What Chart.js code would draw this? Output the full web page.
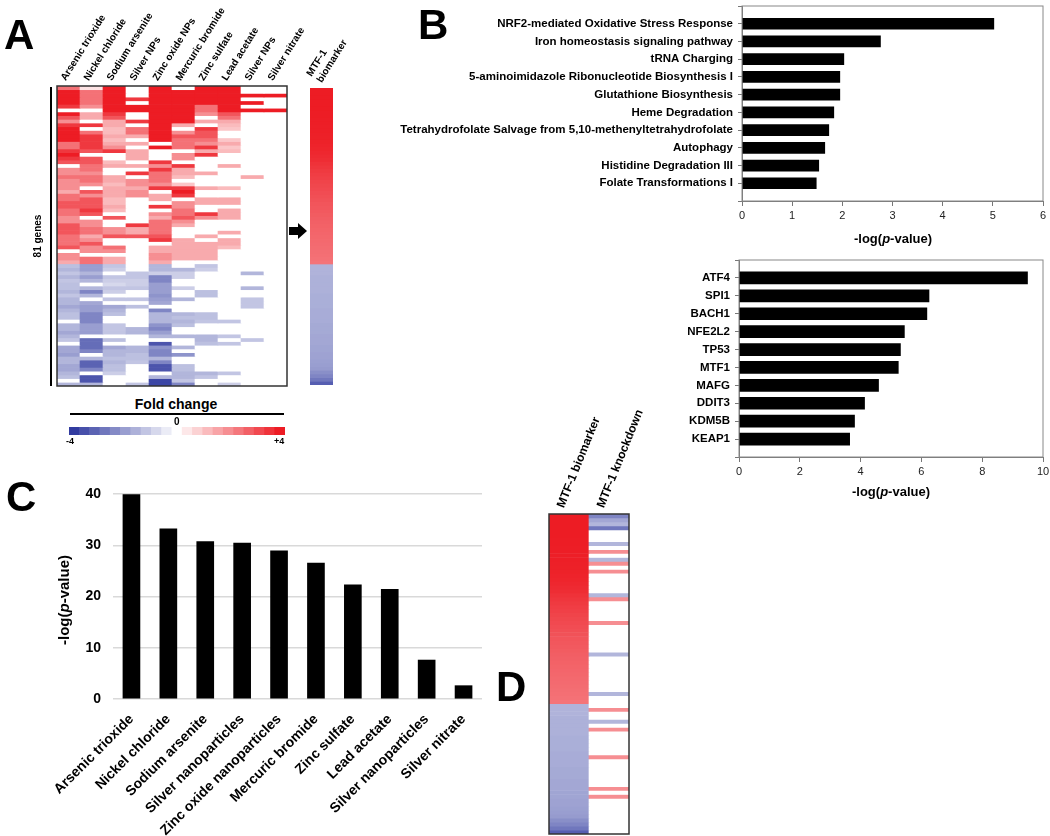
<!DOCTYPE html>
<html><head><meta charset="utf-8">
<script src="https://cdn.jsdelivr.net/npm/chart.js@4.4.0/dist/chart.umd.min.js"></script>
<style>
body{margin:0;background:#fff;font-family:'Liberation Sans',Arial,sans-serif;}
#wrap{position:relative;width:1050px;height:836px;overflow:hidden;background:#fff;}
canvas{position:absolute;}
.t{position:absolute;font-weight:bold;color:#000;white-space:nowrap;line-height:1;}
.letter{font-size:42px;}
.c{transform:translate(-50%,-50%);}
</style></head><body><div id="wrap">
<canvas id="cA" width="330" height="390" style="left:0;top:0"></canvas>
<canvas id="cAb" width="60" height="390" style="left:295px;top:0"></canvas>
<canvas id="cBar" width="235" height="18" style="left:60px;top:422px"></canvas>
<canvas id="cB1" width="750" height="250" style="left:300px;top:0"></canvas>
<canvas id="cB2" width="410" height="260" style="left:640px;top:250px"></canvas>
<canvas id="cC" width="500" height="366" style="left:0;top:470px"></canvas>
<canvas id="cD" width="170" height="436" style="left:480px;top:400px"></canvas>

<div class="t letter" style="left:4px;top:14px">A</div>
<div class="t letter" style="left:418px;top:4px">B</div>
<div class="t letter" style="left:6px;top:476px">C</div>
<div class="t letter" style="left:496px;top:666px">D</div>

<div style="position:absolute;left:50px;top:87px;width:2px;height:299px;background:#000"></div>
<div class="t c" style="left:38px;top:236px;font-size:10px;transform:translate(-50%,-50%) rotate(-90deg)">81 genes</div>
<div style="position:absolute;left:289px;top:227px;width:10px;height:8px;background:#000"></div>
<div style="position:absolute;left:298px;top:223px;width:0;height:0;border-top:8px solid transparent;border-bottom:8px solid transparent;border-left:9px solid #000"></div>

<div class="t c" style="left:176px;top:404px;font-size:14px">Fold change</div>
<div style="position:absolute;left:70px;top:413px;width:214px;height:2px;background:#000"></div>
<div class="t" style="left:174px;top:417px;font-size:10px">0</div>
<div class="t" style="left:66px;top:437px;font-size:9px">-4</div>
<div class="t" style="left:274px;top:437px;font-size:9px">+4</div>

<div class="t c" style="left:893px;top:238px;font-size:13px">-log(<i>p</i>-value)</div>
<div class="t c" style="left:891px;top:491px;font-size:13px">-log(<i>p</i>-value)</div>
<div class="t c" style="left:63px;top:600px;font-size:15px;transform:translate(-50%,-50%) rotate(-90deg)">-log(<i>p</i>-value)</div>
</div>
<script>
// ---------- DATA ----------
const heatColumns = ["Arsenic trioxide","Nickel chloride","Sodium arsenite","Silver NPs","Zinc oxide NPs","Mercuric bromide","Zinc sulfate","Lead acetate","Silver NPs","Silver nitrate"];
// fold change per gene (81 rows, top to bottom) for each exposure
const arsenicTrioxide = [2.5,4,4,4,4,3.5,0,4,3,2,3.5,4,4,4,4,2.5,2.5,3.5,4,3.5,3,0,2,2,2.5,2,2,
 2,1.5,2.5,2.5,3,3,2.5,2.5,2,2,3,3,3,2.5,2.5,2.5,3,0,2,2,1.5,
 -1.3,-1.5,-1.2,-1.5,-1.2,-1.3,
 -1.3,-1.5,-1.2,-1.5,-1.5,-1.8,-1.5,-1.3,-1.3,0,-1.5,-1.5,-1.8,-1.5,-1.2,0,-1.8,-1.8,-2,-1.5,-1.5,-1.8,-1.8,-1.5,-1.3,0,-1.5];
const nickelChloride = [0.5,2.5,2.5,2.5,2.5,2,0,1.5,1.5,0,3.5,0,2.5,3.5,3.5,3.5,3.5,3,0,3,3,2.5,2.5,2,2.5,2.5,2,
 0,3,2,3,3,3,3.5,3,0,2,2,2.5,2.5,1.5,2,3,2,2,0,2.5,2.5,
 -2,-2,-1.5,-2,-1.5,0,
 -1.5,-2.5,-1.5,0,-1.8,-2,-2,-2.5,-2.5,-2.5,-2,-2,-2,0,-3,-3,-3,-2.5,0,-1.5,-3.2,-3.2,-2.5,0,-3.5,-3.5,-1.5];
const sodiumArsenite = [4,4,4,4,4,4,4,3.5,3,1.5,1.5,1.2,1.2,1.5,1.2,1.5,2,3.5,0,0,1.2,1.5,0,0,1.5,1.5,1.2,
 1.5,1.5,1.5,1.2,1.2,1.5,1.2,0,3,0,0,2,2,3,0,0,2.5,2,0,1.5,1.5,
 -1.2,-1,0,-1.2,-1,-0.8,
 -1.2,-1,0,-1.2,0,-1.8,-1.5,-1.3,0,0,-1.2,-1.2,-1.2,0,-1.3,0,-1.8,-1.5,-1.5,-1.3,-1.5,-1.3,-1.3,-1,0,0,0];
const silverNPsA = [0,0,0,3.5,0,4,4,0,0,3.5,0,2.5,2.5,1.5,0,1.5,0,1.5,1.5,1.5,0,1.5,0,3.5,0,2,2,
 1.5,2,2,0,0,0,0,0,0,0,3.5,1.5,1.5,3,0,0,0,0,0,0,0,
 0,0,-1.2,-1.2,-1,-1,
 -1.2,0,0,-1.2,0,-1.3,0,0,0,0,0,-1.5,-1.5,0,0,0,-1.5,-1.5,-1.3,-1.3,-1.2,0,0,0,0,0,-1.2];
const zincOxideNPs = [4,4,4,4,4,4,4,4,4,4,4,4,4,4,4,0,4,0,0,0,3.5,2,3.5,2.5,2.5,2.5,2,
 3.5,0,1.5,1.5,0,3.5,0,2,1.5,2.5,2.5,2.5,2.5,3,3.5,0,1.5,1.5,2,2,1.5,
 -1.5,-1.5,-1,-2.5,-2.5,-2,
 -2,-2,-2.2,-2,-1.8,0,-2.5,-1.5,-1.5,-1.5,-2.2,-2.5,-2,-1.5,0,-3.5,-2.2,-2.5,-2.5,-1.5,-2.5,-3.5,-3.5,0,-1.5,-3.8,-3.8];
const mercuricBromide = [0,4,4,4,4,4,4,4,4,4,1.5,0,2,3,2.5,2.5,2.5,0,2,2,0,3.5,1.5,1.5,1.2,0,1,
 3.5,4,3.5,0,2,2,2.5,2.5,3,2,1.5,0,0,0,1.5,1.5,1.5,1.5,1.5,1.5,0,
 0,-1.5,-1,-1,0,0,
 -1,0,0,-1.5,0,0,0,-1.5,-1.3,-1.5,-1.3,0,0,-1.5,0,0,-1.5,0,-2.2,0,0,-1.3,-1.3,-1.5,-1.5,-1.2,-2.5];
const zincSulfate = [4,4,4,4,4,2.5,2.5,2,0,1.5,0,3.5,3,3,2.5,2,3.5,1.5,3.5,0,0,0,0,1.5,0,0,0,
 1.5,0,0,1.5,1.5,0,0,3.5,2,0,0,0,0,1.5,0,1.5,1.5,1.5,1.5,1.5,0,
 -1.2,-1,0,0,0,0,
 0,-1.3,-1.3,0,0,0,0,-1.3,-1.3,-1.2,0,0,0,-1.5,-1.5,-1.3,0,0,0,0,0,0,0,-1.5,-1.2,0,0];
const leadAcetate = [4,4,4,4,4,4,4,3,2.5,1.5,1.2,1,0,0,1,1.5,1,1.2,0,0,0,1.5,0,0,0,0,0,
 1.2,0,0,1.5,1.5,0,1.5,1.5,1.5,0,0,0,1.5,0,1.5,1.5,1.2,0,0,0,0,
 0,0,0,0,0,0,
 0,0,0,0,0,0,0,0,0,-1.2,0,0,0,-1.2,0,-1.2,0,0,0,0,0,0,0,-1.2,0,0,-1];
const silverNPsB = [0,0,4,0,4,0,4,0,0,0,0,0,0,0,0,0,0,0,0,0,0,0,0,0,1.5,0,0,
 0,0,0,0,0,0,0,0,0,0,0,0,0,0,0,0,0,0,0,0,0,
 0,0,-1.5,0,0,0,
 -1.5,0,0,-1.2,-1.2,-1.2,0,0,0,0,0,0,0,0,-1.2,0,0,0,0,0,0,0,0,0,0,0,0];
const silverNitrate = [0,0,4,0,0,0,4,0,0,0,0,0,0,0,0,0,0,0,0,0,0,0,0,0,0,0,0,
 0,0,0,0,0,0,0,0,0,0,0,0,0,0,0,0,0,0,0,0,0,
 0,0,0,0,0,0,
 0,0,0,0,0,0,0,0,0,0,0,0,0,0,0,0,0,0,0,0,0,0,0,0,0,0,0];
const mtf1Biomarker = [4,4,4,4,4,4,3.98,3.98,3.96,3.96,3.95,3.94,
 3.93,3.92,3.9,3.88,3.85,3.8,3.75,3.7,3.62,3.55,3.48,3.42,
 3.36,3.3,3.25,3.2,3.15,3.1,3.05,3,2.96,2.92,2.88,2.84,
 2.8,2.77,2.74,2.71,2.68,2.65,2.62,2.59,2.56,2.53,2.5,2.45,
 -1.55,-1.55,-1.55,-1.6,-1.6,-1.6,-1.6,-1.6,-1.65,-1.65,-1.65,-1.65,
 -1.7,-1.7,-1.7,-1.7,-1.75,-1.75,-1.75,-1.8,-1.8,-1.8,-1.85,-1.85,
 -1.9,-1.9,-1.95,-2,-2.05,-2.3,-2.5,-2.8,-3.3];
const mtf1Knockdown = [-2.5,-1.8,-1.5,-2.8,0,0,0,-1.5,0,2,0,-1.5,2,0,2,0,0,0,0,0,
 -1.5,2,0,0,0,0,0,2,0,0,0,0,0,0,0,-1.5,0,0,0,0,
 0,0,0,0,0,-1.5,0,0,0,2,0,0,-1.5,0,2,0,0,0,0,0,
 0,2,0,0,0,0,0,0,0,2,0,2,0,0,0,0,0,0,0,0,0];
const colorbarSteps = [-4,-3.6,-3.2,-2.8,-2.4,-2,-1.6,-1.2,-0.8,-0.4,0,0.4,0.8,1.2,1.6,2,2.4,2.8,3.2,3.6,4];

const pathways = ["NRF2-mediated Oxidative Stress Response","Iron homeostasis signaling pathway","tRNA Charging","5-aminoimidazole Ribonucleotide Biosynthesis I","Glutathione Biosynthesis","Heme Degradation","Tetrahydrofolate Salvage from 5,10-methenyltetrahydrofolate","Autophagy","Histidine Degradation III","Folate Transformations I"];
const pathwayValues = [5.02,2.76,2.03,1.95,1.95,1.83,1.73,1.65,1.53,1.48];
const regulators = ["ATF4","SPI1","BACH1","NFE2L2","TP53","MTF1","MAFG","DDIT3","KDM5B","KEAP1"];
const regulatorValues = [9.49,6.25,6.18,5.44,5.31,5.24,4.59,4.13,3.80,3.64];
const exposures = ["Arsenic trioxide","Nickel chloride","Sodium arsenite","Silver nanoparticles","Zinc oxide nanoparticles","Mercuric bromide","Zinc sulfate","Lead acetate","Silver nanoparticles","Silver nitrate"];
const exposureValues = [39.9,33.2,30.7,30.4,28.9,26.5,22.3,21.4,7.6,2.6];
const dColumns = [["MTF-1 biomarker"],["MTF-1 knockdown"]];

// ---------- STYLE HELPERS ----------
const FONT = "'Liberation Sans', Arial, sans-serif";
Chart.defaults.font.family = FONT;
Chart.defaults.animation = false;
Chart.defaults.plugins.legend.display = false;
Chart.defaults.plugins.tooltip.enabled = false;
Chart.defaults.responsive = false;

function foldColor(v){
  if(!v) return 'rgb(255,255,255)';
  const t = Math.min(Math.abs(v)/4,1);
  const end = v>0 ? [237,28,36] : [50,60,160];
  const c = end.map(e=>Math.round(255+(e-255)*t));
  return 'rgb('+c.join(',')+')';
}
function boxPlugin(color,width){
  return {id:'box',afterDatasetsDraw(chart){
    const a=chart.chartArea,ctx=chart.ctx;ctx.save();ctx.strokeStyle=color;ctx.lineWidth=width;
    ctx.strokeRect(a.left,a.top,a.right-a.left,a.bottom-a.top);ctx.restore();}};
}
function noPadX(s,h){ s.height=h; s.paddingLeft=0; s.paddingRight=0; }
function noPadY(s,w){ s.width=w; s.paddingTop=0; s.paddingBottom=0; }
function heatDatasets(cols){
  const n = cols[0].length, ds=[];
  for(let r=0;r<n;r++){
    ds.push({data:cols.map(()=>[r,r+1]),backgroundColor:cols.map(c=>foldColor(c[r])),
      grouped:false,barPercentage:1,categoryPercentage:1,borderWidth:0});
  }
  return ds;
}
function heatOptions(axisH,rot,fontSize,pad,lo,tp){
  return {layout:{padding:pad},
    scales:{
      x:{position:'top',grid:{display:false,drawTicks:false},border:{display:false},
         ticks:{autoSkip:false,minRotation:rot,maxRotation:rot,padding:tp,labelOffset:lo,color:'#000',font:{size:fontSize,weight:'bold'}},
         afterFit:s=>noPadX(s,axisH)},
      y:{type:'linear',min:0,max:81,reverse:true,display:false}
    }};
}

// ---------- PANEL A ----------
const colsA=[arsenicTrioxide,nickelChloride,sodiumArsenite,silverNPsA,zincOxideNPs,mercuricBromide,zincSulfate,leadAcetate,silverNPsB,silverNitrate];
new Chart(document.getElementById('cA'),{type:'bar',
  data:{labels:heatColumns,datasets:heatDatasets(colsA)},
  options:heatOptions(80,58,10,{left:57,right:43,top:6,bottom:4},5,3),
  plugins:[boxPlugin('#333',1.5)]});
new Chart(document.getElementById('cAb'),{type:'bar',
  data:{labels:[["MTF-1","biomarker"]],datasets:heatDatasets([mtf1Biomarker])},
  options:heatOptions(80,58,10,{left:15,right:22,top:8,bottom:5},8,3)});
new Chart(document.getElementById('cBar'),{type:'bar',
  data:{labels:colorbarSteps.map(String),datasets:[{data:colorbarSteps.map(()=>1),backgroundColor:colorbarSteps.map(foldColor),barPercentage:1,categoryPercentage:1,borderWidth:0}]},
  options:{layout:{padding:{left:9,right:10,top:5,bottom:5}},scales:{x:{display:false},y:{display:false,min:0,max:1}}}});

// ---------- PANEL B ----------
function hbar(id,labels,values,xmax,step,yW,xH,pad,thick){
  new Chart(document.getElementById(id),{type:'bar',
    data:{labels:[''].concat(labels,['']),datasets:[{data:[null].concat(values,[null]),backgroundColor:'#000',barThickness:thick}]},
    options:{indexAxis:'y',layout:{padding:pad},
      scales:{
        x:{type:'linear',min:0,max:xmax,ticks:{stepSize:step,color:'#222',font:{size:11},padding:3},
           grid:{drawOnChartArea:false,tickLength:5,color:'#777'},border:{color:'#777'},afterFit:s=>noPadX(s,xH)},
        y:{offset:false,grid:{drawOnChartArea:false,tickLength:4,color:'#777',offset:false},border:{color:'#777'},
           ticks:{autoSkip:false,color:'#000',font:{size:11.5,weight:'bold'},padding:5},afterFit:s=>noPadY(s,yW)}
      }},
    plugins:[boxPlugin('#888',1)]});
}
hbar('cB1',pathways,pathwayValues,6,1,442,49,{left:0,right:7,top:6,bottom:0},11);
hbar('cB2',regulators,regulatorValues,10,2,99,53,{left:0,right:7,top:10,bottom:0},12);

// ---------- PANEL C ----------
new Chart(document.getElementById('cC'),{type:'bar',
  data:{labels:exposures,datasets:[{data:exposureValues,backgroundColor:'#000',barThickness:17}]},
  options:{layout:{padding:{left:0,right:18,top:24,bottom:0}},
    scales:{
      x:{grid:{display:false},border:{display:false},
         ticks:{autoSkip:false,minRotation:45,maxRotation:45,padding:4,color:'#000',font:{size:14,weight:'bold'}},
         afterFit:s=>noPadX(s,137)},
      y:{min:0,max:40,ticks:{stepSize:10,padding:12,color:'#000',font:{size:14,weight:'bold'}},
         grid:{color:'#d9d9d9',lineWidth:1.5,drawTicks:false},border:{display:false},afterFit:s=>noPadY(s,113)}
    }}});

// ---------- PANEL D ----------
new Chart(document.getElementById('cD'),{type:'bar',
  data:{labels:dColumns,datasets:heatDatasets([mtf1Biomarker,mtf1Knockdown])},
  options:heatOptions(114,68,12,{left:69,right:21,top:0,bottom:2},5,4),
  plugins:[boxPlugin('#333',1.5)]});
</script></body></html>
